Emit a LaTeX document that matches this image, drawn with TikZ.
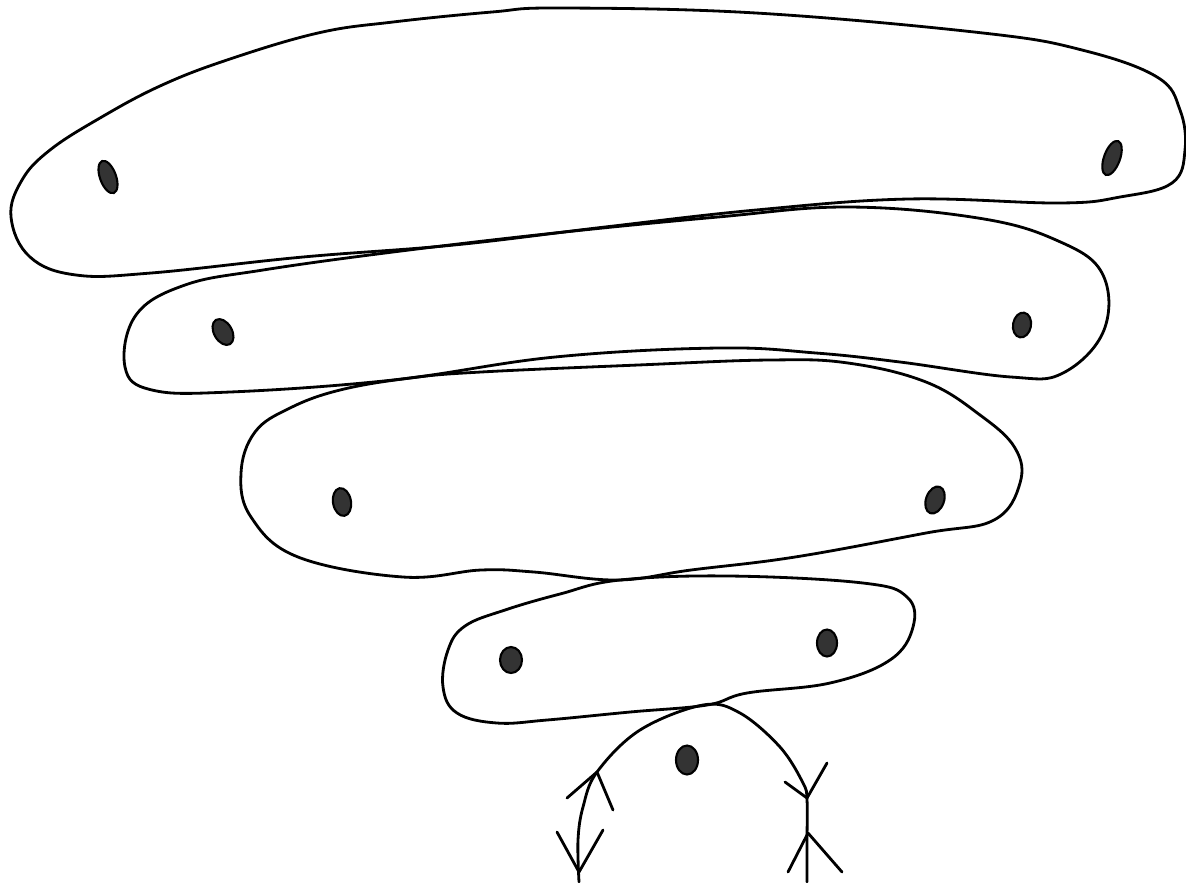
\documentclass[tikz,border=0pt]{standalone}
\usepackage{tikz}
\usetikzlibrary{shapes.geometric}

\begin{document}
\begin{tikzpicture}[
    x=0.1mm, y=-0.1mm,
    loop/.style={draw, line width=0.8pt, smooth cycle, tension=0.65},
    stroke/.style={draw, line width=0.8pt, line cap=round, line join=round},
    dot/.style={ellipse, draw, line width=0.6pt, fill=black!80, inner sep=0pt, minimum width=1.8mm, minimum height=2.8mm}
]
    \useasboundingbox (0,0) rectangle (1186,882);

    % Loops
    \path[loop] plot coordinates {(11,217) (22,180) (50,150) (100,118) (160,86) (227,60) (318,33) (393,22) (492,12) (560,8) (756,13) (983,33) (1082,50) (1157,77) (1180,110) (1185,150) (1172,183) (1120,197) (1059,203) (908,199) (756,210) (605,227) (454,245) (303,257) (151,273) (76,275) (30,257)};
    \path[loop] plot coordinates {(125,367) (136,315) (185,285) (263,270) (393,252) (555,233) (718,217) (848,207) (978,218) (1056,240) (1102,273) (1104,330) (1063,373) (1011,377) (900,362) (816,353) (718,348) (555,357) (393,380) (230,392) (152,390)};
    \path[loop] plot coordinates {(241,473) (255,432) (290,408) (340,390) (410,378) (481,372) (638,365) (769,360) (848,363) (926,382) (980,415) (1015,448) (1020,483) (994,520) (926,533) (795,557) (691,570) (617,580) (534,572) (481,570) (403,577) (298,557) (251,517)};
    \path[loop] plot coordinates {(443,687) (448,650) (465,626) (505,610) (560,594) (620,580) (730,576) (863,583) (907,597) (913,627) (890,660) (830,683) (747,693) (707,705) (630,712) (547,720) (497,723) (457,713)};

    % Bottom loop
    \path[stroke] plot[smooth, tension=0.6] coordinates {(579,882) (578,840) (583,807) (597,772) (640,730) (703,705) (740,713) (780,747) (803,783) (807,800) (807,840) (807,882)};

    % Dots
    \node[dot, minimum width=1.6mm, minimum height=3.4mm, rotate=20] (topL) at (108,177) {};
    \node[dot, minimum width=1.6mm, minimum height=3.6mm, rotate=-20] (topR) at (1112,158) {};
    \node[dot, rotate=30] (secL) at (223,332) {};
    \node[dot, minimum height=2.5mm, rotate=-10] (secR) at (1022,325) {};
    \node[dot, rotate=10] (midL) at (342,502) {};
    \node[dot, rotate=-20] (midR) at (935,500) {};
    \node[dot, minimum width=2.2mm, minimum height=2.6mm] (lowL) at (511,660) {};
    \node[dot, minimum width=2mm, minimum height=2.7mm] (lowR) at (827,643) {};
    \node[dot, minimum width=2.2mm, minimum height=2.9mm] (base) at (687,760) {};

    % Arrow marks
    \coordinate (lt) at (597,772);
    \coordinate (lb) at (579,872);
    \coordinate (rt) at (807,798);
    \coordinate (rb) at (808,833);
    \path[stroke] (lt) ++(-30,26) -- (lt) -- ++(16,38);
    \path[stroke] (lb) ++(-22,-40) -- (lb) -- ++(24,-42);
    \path[stroke] (rt) ++(-22,-16) -- (rt) -- ++(20,-35);
    \path[stroke] (rb) ++(-20,39) -- (rb) -- ++(34,39);
\end{tikzpicture}
\end{document}
